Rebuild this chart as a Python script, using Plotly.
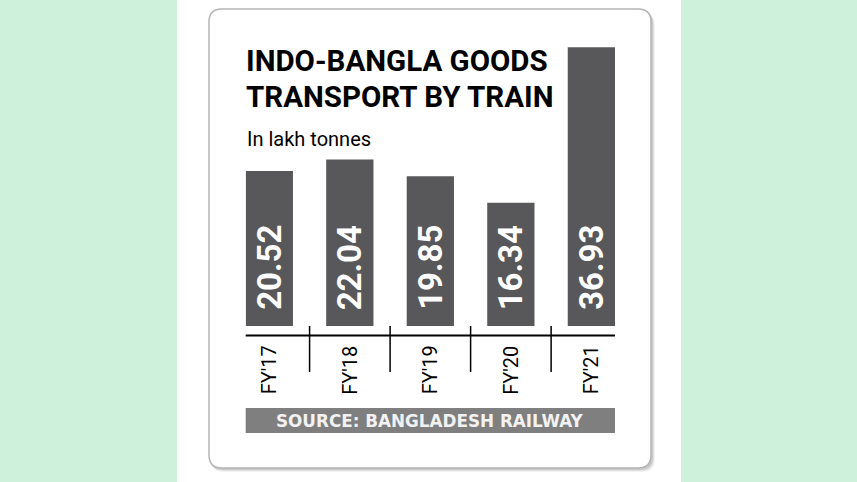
import plotly.graph_objects as go

W, H = 857, 482

years = ["FY'17", "FY'18", "FY'19", "FY'20", "FY'21"]
tonnes = [20.52, 22.04, 19.85, 16.34, 36.93]

title_lines = ["INDO-BANGLA GOODS", "TRANSPORT BY TRAIN"]
subtitle = "In lakh tonnes"
source = "SOURCE: BANGLADESH RAILWAY"

BAR = "#58585a"
GREEN = "#cdf1da"
FONT = "Roboto"


def px(x):
    return x / W


def py(y):
    return 1 - y / H


def rounded_rect(x0, y0, x1, y1, r):
    """SVG path of a rounded rectangle, pixel coords converted to paper units."""
    pts = [
        f"M {px(x0 + r)},{py(y0)}",
        f"L {px(x1 - r)},{py(y0)}",
        f"Q {px(x1)},{py(y0)} {px(x1)},{py(y0 + r)}",
        f"L {px(x1)},{py(y1 - r)}",
        f"Q {px(x1)},{py(y1)} {px(x1 - r)},{py(y1)}",
        f"L {px(x0 + r)},{py(y1)}",
        f"Q {px(x0)},{py(y1)} {px(x0)},{py(y1 - r)}",
        f"L {px(x0)},{py(y0 + r)}",
        f"Q {px(x0)},{py(y0)} {px(x0 + r)},{py(y0)}",
        "Z",
    ]
    return " ".join(pts)


fig = go.Figure(
    go.Bar(
        x=list(range(len(years))),
        y=tonnes,
        width=0.587,
        marker=dict(color=BAR, line=dict(width=0)),
        hoverinfo="skip",
    )
)

shapes = [
    # white panel behind the card
    dict(type="rect", xref="paper", yref="paper", x0=px(177), x1=px(681), y0=0, y1=1,
         fillcolor="white", line=dict(width=0), layer="below"),
]
# soft shadow
for off, alpha in [(4, 0.05), (3, 0.07), (2, 0.10)]:
    shapes.append(dict(type="path", xref="paper", yref="paper",
                       path=rounded_rect(209 + off / 2, 9 + off, 651 + off, 468 + off, 13),
                       fillcolor=f"rgba(0,0,0,{alpha})", line=dict(width=0), layer="below"))
shapes.append(dict(type="path", xref="paper", yref="paper",
                   path=rounded_rect(209, 9, 651, 468, 13),
                   fillcolor="white", line=dict(color="#b5b5b5", width=1.5), layer="below"))
# baseline under the bars
shapes.append(dict(type="line", xref="paper", yref="paper",
                   x0=px(245.7), x1=px(615), y0=py(335.5), y1=py(335.5),
                   line=dict(color="black", width=2.2)))
# separators between categories
for i in range(len(years) - 1):
    shapes.append(dict(type="line", xref="x", yref="paper",
                       x0=i + 0.5, x1=i + 0.5, y0=py(326), y1=py(372),
                       line=dict(color="black", width=1.5)))
# source box
shapes.append(dict(type="rect", xref="paper", yref="paper",
                   x0=px(245.7), x1=px(615), y0=py(433), y1=py(408),
                   fillcolor="#7f7f7f", line=dict(width=0)))

annotations = []
for line, yc in zip(title_lines, [61.5, 97]):
    annotations.append(dict(text=f"<b>{line}</b>", xref="paper", yref="paper",
                            x=px(244), y=py(yc), xanchor="left", yanchor="middle",
                            showarrow=False,
                            font=dict(family=FONT, size=29.5, color="black")))
annotations.append(dict(text=subtitle, xref="paper", yref="paper",
                        x=px(245), y=py(139), xanchor="left", yanchor="middle",
                        showarrow=False,
                        font=dict(family=FONT, size=20, color="black")))
for i, (yr, v) in enumerate(zip(years, tonnes)):
    annotations.append(dict(text=f"<b>{v:.2f}</b>", x=i, y=0, xref="x", yref="y",
                            yshift=14, xanchor="center", yanchor="bottom",
                            textangle=-90, showarrow=False,
                            font=dict(family=FONT, size=33, color="white")))
    annotations.append(dict(text=yr, x=i, y=py(370), xref="x", yref="paper",
                            xanchor="center", yanchor="middle",
                            textangle=-90, showarrow=False,
                            font=dict(family=FONT, size=20, color="black")))
annotations.append(dict(text=f"<b>{source}</b>", xref="paper", yref="paper",
                        x=px(430.3), y=py(420.5), xanchor="center", yanchor="middle",
                        showarrow=False,
                        font=dict(family="DejaVu Sans", size=16.8, color="#f2f2f2")))

fig.update_layout(
    width=W,
    height=H,
    margin=dict(l=0, r=0, t=0, b=0),
    paper_bgcolor=GREEN,
    plot_bgcolor="rgba(0,0,0,0)",
    showlegend=False,
    shapes=shapes,
    annotations=annotations,
    xaxis=dict(domain=[px(245.7), px(615)], range=[-0.2935, 4.2935],
               visible=False, fixedrange=True),
    yaxis=dict(domain=[py(326), py(44)], range=[0, 37.35],
               visible=False, fixedrange=True),
)

fig.write_html(
    "out.html",
    config={"displayModeBar": False},
    post_script="document.body.style.margin='0';",
)
